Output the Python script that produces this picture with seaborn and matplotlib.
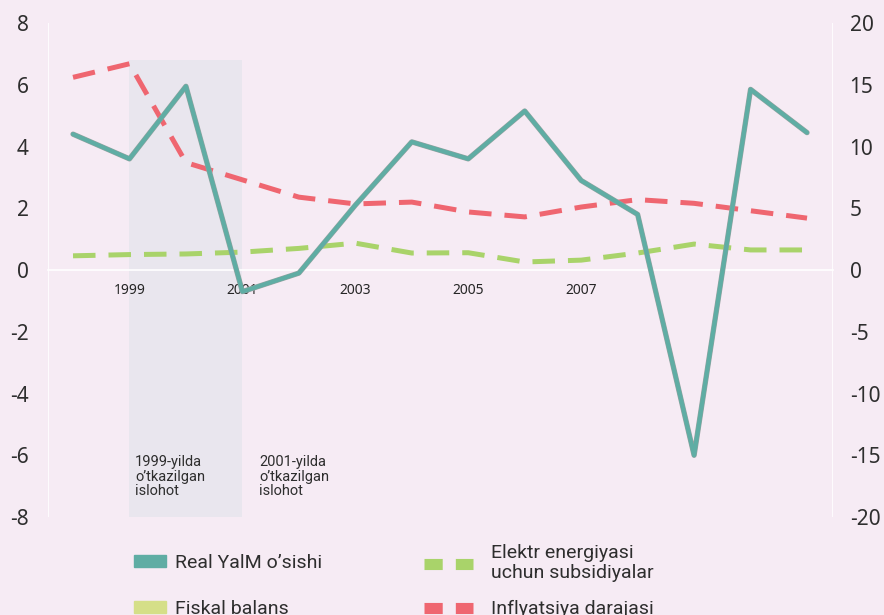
import matplotlib
matplotlib.use("Agg")
import matplotlib.pyplot as plt
import matplotlib.patches as mpatches
import matplotlib.patheffects as pe
from matplotlib.lines import Line2D
import pandas as pd
import seaborn as sns

# Data
years = [1998, 1999, 2000, 2001, 2002, 2003, 2004, 2005, 2006, 2007, 2008, 2009, 2010, 2011]
real_gdp = [4.4, 3.6, 5.95, -0.7, -0.1, 2.1, 4.15, 3.6, 5.15, 2.9, 1.8, -6.0, 5.85, 4.45]
subsidies = [0.46, 0.5, 0.52, 0.58, 0.7, 0.87, 0.55, 0.56, 0.26, 0.32, 0.55, 0.84, 0.65, 0.65]
inflation = [15.6, 16.7, 8.7, 7.3, 5.9, 5.35, 5.5, 4.7, 4.3, 5.1, 5.7, 5.4, 4.8, 4.2]
tick_years = [1999, 2001, 2003, 2005, 2007]
left_ticks = [8, 6, 4, 2, 0, -2, -4, -6, -8]
right_ticks = [20, 15, 10, 5, 0, -5, -10, -15, -20]

legend_labels = ["Real YalM o\u2019sishi", "Fiskal balans",
                 "Elektr energiyasi\nuchun subsidiyalar", "Inflyatsiya darajasi"]

df = pd.DataFrame({"year": years, "gdp": real_gdp, "sub": subsidies, "inf": inflation})

teal = "#5fada4"
green = "#a9d36a"
red = "#ef6670"
fiscal = "#d5df88"
bg = "#f6ebf4"
txt = "#2e2e2e"
narrow = ["Roboto", "DejaVu Sans"]

sns.set_style("white")
plt.rcParams["font.family"] = ["Noto Sans", "DejaVu Sans"]

fig = plt.figure(figsize=(8.84, 6.15), dpi=100, facecolor=bg)
ax = fig.add_axes([0.0543, 0.1593, 0.888, 0.8033], facecolor=bg)
ax2 = ax.twinx()
ax.set_zorder(ax2.get_zorder() + 1)
ax.patch.set_visible(False)
ax2.patch.set_visible(True)
ax2.patch.set_facecolor(bg)

# reform period shading (on the lower axes so the red line stays visible)
ax2.axvspan(1999, 2001, ymin=0.0, ymax=0.925, color="#e9e6ee", zorder=0, lw=0)

sns.lineplot(data=df, x="year", y="inf", ax=ax2, color=red, lw=3.6, zorder=3)
ax2.lines[-1].set_dashes((4.5, 2.6))
sns.lineplot(data=df, x="year", y="sub", ax=ax, color=green, lw=3.6, zorder=2)
ax.lines[-1].set_dashes((4.5, 2.6))
sns.lineplot(data=df, x="year", y="gdp", ax=ax, color=teal, lw=3.0, zorder=4)
ax.lines[-1].set_path_effects([pe.Stroke(linewidth=3.8, foreground="#93a3a0"), pe.Normal()])

ax.set_xlim(1997.557, 2011.46)
ax.set_ylim(-8, 8)
ax2.set_ylim(-20, 20)

ax.set_yticks(left_ticks)
ax.set_yticklabels([str(v) for v in left_ticks], fontsize=15, color=txt)
ax2.set_yticks(right_ticks)
ax2.set_yticklabels([str(v) for v in right_ticks], fontsize=15, color=txt)
ax.tick_params(axis="y", length=0, pad=14)
ax2.tick_params(axis="y", length=0, pad=12)

ax.set_xticks(tick_years)
ax.set_xticklabels([str(y) for y in tick_years], fontsize=13, color=txt,
                   family=narrow)
ax.tick_params(axis="x", length=0, pad=9)
ax.set_xlabel("")
ax.set_ylabel("")
ax2.set_ylabel("")

for a in (ax, ax2):
    for s in a.spines.values():
        s.set_visible(False)
ax.spines["bottom"].set_visible(True)
ax.spines["bottom"].set_position(("data", 0))
ax.spines["bottom"].set_color("white")
ax.spines["bottom"].set_linewidth(1.2)
ax.axvline(1997.557, color="white", lw=1.2, zorder=1)
ax.axvline(2011.46, color="white", lw=1.2, zorder=1)

ann_style = dict(fontsize=10.5, color=txt, va="top", ha="left", linespacing=1.05,
                 family=narrow)
ax.text(1999.1, -6.0, "1999-yilda\no\u2019tkazilgan\nislohot", **ann_style)
ax.text(2001.3, -6.0, "2001-yilda\no\u2019tkazilgan\nislohot", **ann_style)

# legend: one small legend per entry so rows line up across columns
handles = [
    mpatches.Patch(color=teal),
    mpatches.Patch(color=fiscal),
    Line2D([], [], color=green, lw=8, dashes=(1.64, 1.18)),
    Line2D([], [], color=red, lw=8, dashes=(1.64, 1.18)),
]
spots = [(134, 563), (134, 609), (424, 563), (424, 609)]
hlens = [1.65, 1.65, 2.53, 2.53]
pads = [0.46, 0.46, 0.93, 0.93]
for h, lab, (px, py), hl, tp in zip(handles, legend_labels, spots, hlens, pads):
    fig.legend([h], [lab], loc="center left",
               bbox_to_anchor=(px / 884, 1 - py / 615),
               frameon=False, prop={"family": narrow, "size": 14},
               labelcolor=txt, handlelength=hl, handleheight=0.57,
               handletextpad=tp, borderpad=0, borderaxespad=0)

fig.savefig("out.png", dpi=100, facecolor=bg)
